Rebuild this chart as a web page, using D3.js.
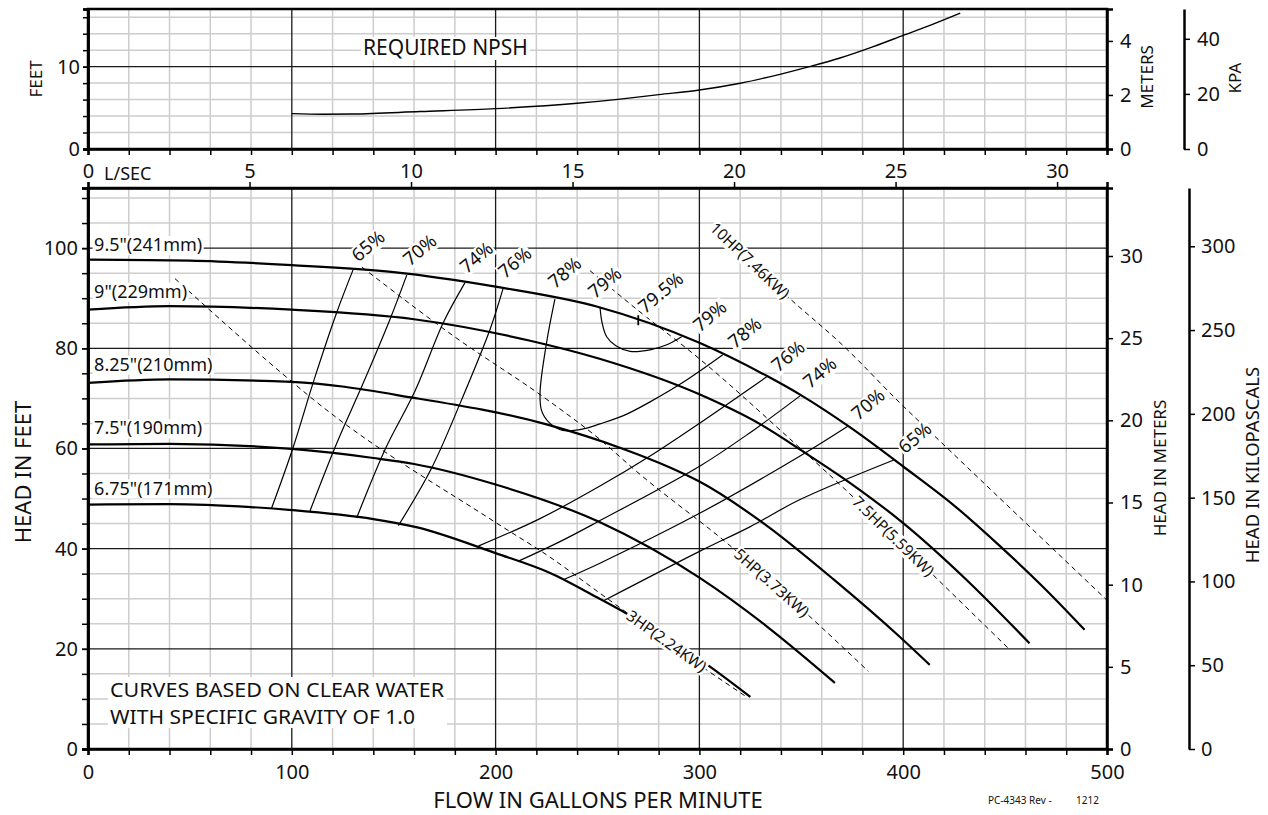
<!DOCTYPE html>
<html>
<head>
<meta charset="utf-8">
<script src="https://cdn.jsdelivr.net/npm/d3@7"></script>
<style>
  body { margin: 0; background: #fff; }
  svg { font-family: "Noto Sans", sans-serif; }
  .grid-minor { stroke: #cdcdcd; stroke-width: 1.5; }
  .grid-major { stroke: #1a1a1a; stroke-width: 1.3; }
  .frame { fill: none; stroke: #000; stroke-width: 2.5; }
  .axis path.domain { stroke: #000; stroke-width: 2.5; }
  .axis line { stroke: #000; stroke-width: 1.5; }
  .axis text { fill: #111; font-size: 20px; font-family: "Noto Sans", sans-serif; }
  .head { fill: none; stroke: #000; stroke-width: 2.2; }
  .eff { fill: none; stroke: #000; stroke-width: 1.2; }
  .power { fill: none; stroke: #000; stroke-width: 1; stroke-dasharray: 5,4; }
  .npsh { fill: none; stroke: #000; stroke-width: 1.4; }
  .label text { fill: #111; }
  .label rect { fill: #fff; }
  .title { fill: #111; }
</style>
</head>
<body>
<svg id="chart" width="1268" height="815"></svg>
<script>
const GPM_PER_LPS = 15.8503
const M_PER_FT = 0.3048
const KPA_PER_FT = 2.98907

const FLOW_MAX = 500
const HEAD_MAX = 112
const NPSH_MAX = 17

// impeller head curves  [gpm, feet]
const IMPELLERS = ['9.5"(241mm)', '9"(229mm)', '8.25"(210mm)', '7.5"(190mm)', '6.75"(171mm)']
const IMPELLER_LABEL_FT = [99.4, 90.1, 75.5, 62.8, 50.8]
const HEAD_241 = [[0,97.7],[50,97.5],[100,96.6],[150,95.2],[200,92.3],[250,88.3],[300,81.1],[333,74.5],[350,70.6],[374,64.2],[400,56.4],[425,48.6],[447.5,40.5],[470,31.8],[489,23.8]]
const HEAD_229 = [[0,87.7],[40,88.4],[100,87.7],[160,85.8],[217,81.5],[251,77.9],[300,70.8],[330,64.8],[352,59.1],[374,53.1],[400,45.1],[431,33.8],[462,21.1]]
const HEAD_210 = [[0,73.1],[40,73.8],[100,73.3],[160,70.1],[225,64.8],[262,60],[285,56.3],[300,53.4],[333,44.6],[366,33.8],[398,22.5],[413,16.8]]
const HEAD_190 = [[0,60.8],[40,60.9],[100,59.9],[140,58.1],[160,56.9],[200,52.8],[251,45.3],[300,34.2],[333,24.5],[366.5,13.2]]
const HEAD_171 = [[0,48.8],[40,48.9],[80,48.3],[100,47.7],[140,45.9],[161,44.3],[200,39.1],[227,35.1],[251,30],[264,27.1],[305,16.5],[325,10.4]]

// iso-efficiency lines  [gpm, feet]
const EFF65_L = [[130.1,95.7],[122,87.1],[111,73.8],[100.4,59.9],[90.1,48.1]]
const EFF70_L = [[156.4,94.6],[148.2,85.8],[135.1,73.1],[122,61],[108.9,47.5]]
const EFF74_L = [[185,93.1],[174.3,85.1],[160.5,71.5],[146,60],[131.8,46.1]]
const EFF76_L = [[203.8,92.1],[197.3,83.8],[183.4,69.8],[168.5,56],[152.3,44.6]]
const EFF78 = [[229.1,89.8],[225,81.1],[221.8,71.1],[222.6,67.5],[226.7,65],[233,63.6],[243,63.9],[251.2,64.9],[263,66.6],[275.8,69.3],[292,73.2],[311.5,78.7]]
const EFF79 = [[251.2,88.3],[252.3,85],[254.5,82.3],[259,80.5],[266,79.4],[275.8,79.7],[284,80.7],[291.3,82.3]]
const EFF76_R = [[191.5,40.5],[221.8,46],[251.2,52.5],[275.8,58.5],[300.3,65.1],[333,74.3]]
const EFF74_R = [[211.2,37.5],[231.6,41.4],[251.2,45.6],[300.3,56.5],[325,63.2],[349.4,70.5]]
const EFF70_R = [[233.2,33.8],[251.2,37.1],[300.3,47.1],[349.4,58.5],[373,64.5]]
const EFF65_R = [[253,29.6],[300.3,39.5],[325,44.4],[349.4,49.8],[396,57.8]]
const BEP = { flow: 270, lo: 84.6, hi: 86.6 }   // 79.5% mark

// efficiency labels: text, gpm, feet (baseline start)
const EFF_LABELS = [
  ['65%',132.6,97.1], ['70%',158,96.3], ['74%',185.8,94.8], ['76%',204.6,93.8],
  ['78%',229.1,91.8], ['79%',248.8,89.8], ['79.5%',273.3,86.8], ['79%',300.3,83.1],
  ['78%',317.5,79.8], ['76%',338.7,75.1], ['74%',354.3,71.8], ['70%',378,65.5], ['65%',400.9,58.8]
]

// motor power lines  [gpm, feet]
const HP3 = [[42.7,93.9],[100.7,73.1],[110.5,69.8],[200.5,45.1],[226.7,38.3],[251.2,31.1],[303.5,15.8],[322.4,10.6]]
const HP5 = [[134.4,96.2],[179.2,82.5],[225.1,69.8],[251.2,61.8],[269.2,55.4],[315,40.6],[355.9,25.8],[382.9,15.5]]
const HP7_5 = [[246.3,95.5],[269.2,87.8],[300.3,77.8],[342.8,62.5],[375.5,50.3],[414.8,34.7],[451.6,20.1]]
const HP10 = [[306.8,104.5],[342.8,90.5],[370.6,80.5],[398.4,69.1],[420.5,60.5],[500,29.7]]
const POWER_NAMES = ['3HP(2.24KW)', '5HP(3.73KW)', '7.5HP(5.59KW)', '10HP(7.46KW)']
const POWER_LABEL_AT = [283.9, 335.5, 395.2, 324.8]

// required NPSH  [gpm, feet]
const NPSH = [[100,4.3],[115,4.22],[130,4.25],[163,4.55],[200,4.9],[240,5.55],[260,6.03],[280,6.6],[300,7.16],[320,7.98],[340,9.1],[354,10],[369,11.05],[385,12.4],[400,13.8],[415,15.2],[428,16.5]]

const NOTE = ['CURVES BASED ON CLEAR WATER', 'WITH SPECIFIC GRAVITY OF 1.0']

// ---------------------------------------------------------------

const X0 = 88, X1 = 1107
const MAIN_TOP = 188, MAIN_BOT = 749
const NP_TOP = 9, NP_BOT = 149

const svg = d3.select('#chart')

const x = d3.scaleLinear().domain([0, FLOW_MAX]).range([X0, X1])
const xL = d3.scaleLinear().domain([0, FLOW_MAX / GPM_PER_LPS]).range([X0, X1])
const y = d3.scaleLinear().domain([0, HEAD_MAX]).range([MAIN_BOT, MAIN_TOP])
const yM = d3.scaleLinear().domain([0, HEAD_MAX * M_PER_FT]).range([MAIN_BOT, MAIN_TOP])
const yK = d3.scaleLinear().domain([0, HEAD_MAX * KPA_PER_FT]).range([MAIN_BOT, MAIN_TOP])
const yN = d3.scaleLinear().domain([0, NPSH_MAX]).range([NP_BOT, NP_TOP])
const yNM = d3.scaleLinear().domain([0, NPSH_MAX * M_PER_FT]).range([NP_BOT, NP_TOP])
const yNK = d3.scaleLinear().domain([0, NPSH_MAX * KPA_PER_FT]).range([NP_BOT, NP_TOP])

const line = (ys, curve) => d3.line()
  .x((d) => x(d[0]))
  .y((d) => ys(d[1]))
  .curve(curve || d3.curveCatmullRom.alpha(0.5))

// grids

function grid(ys, yMax, yMinorStep, yMajorStep, top, bot) {
  let g = svg.append('g')
  let xs = d3.range(20, FLOW_MAX, 20)
  let hs = d3.range(yMinorStep, yMax, yMinorStep)
  g.selectAll('.vm').data(xs.filter((v) => v % 100 !== 0)).enter().append('line')
    .attr('class', 'grid-minor')
    .attr('x1', (d) => x(d)).attr('x2', (d) => x(d)).attr('y1', top).attr('y2', bot)
  g.selectAll('.hm').data(hs.filter((v) => Math.abs(v % yMajorStep) > 1e-6)).enter().append('line')
    .attr('class', 'grid-minor')
    .attr('y1', (d) => ys(d)).attr('y2', (d) => ys(d)).attr('x1', X0).attr('x2', X1)
  g.selectAll('.vM').data(xs.filter((v) => v % 100 === 0)).enter().append('line')
    .attr('class', 'grid-major')
    .attr('x1', (d) => x(d)).attr('x2', (d) => x(d)).attr('y1', top).attr('y2', bot)
  g.selectAll('.hM').data(d3.range(yMajorStep, yMax, yMajorStep)).enter().append('line')
    .attr('class', 'grid-major')
    .attr('y1', (d) => ys(d)).attr('y2', (d) => ys(d)).attr('x1', X0).attr('x2', X1)
}

grid(yN, NPSH_MAX, 2, 10, NP_TOP, NP_BOT)
grid(y, HEAD_MAX, 5, 20, MAIN_TOP, MAIN_BOT)

// curves

let curves = svg.append('g')

curves.selectAll('.power')
  .data([HP3, HP5, HP7_5, HP10])
  .enter().append('path')
    .attr('class', 'power')
    .attr('d', line(y, d3.curveMonotoneX))

curves.selectAll('.eff')
  .data([EFF65_L, EFF70_L, EFF74_L, EFF76_L, EFF78, EFF79, EFF76_R, EFF74_R, EFF70_R, EFF65_R])
  .enter().append('path')
    .attr('class', 'eff')
    .attr('d', line(y))

curves.selectAll('.head')
  .data([HEAD_241, HEAD_229, HEAD_210, HEAD_190, HEAD_171])
  .enter().append('path')
    .attr('class', 'head')
    .attr('d', line(y, d3.curveMonotoneX))

curves.append('line')
  .attr('x1', x(BEP.flow)).attr('x2', x(BEP.flow))
  .attr('y1', y(BEP.lo)).attr('y2', y(BEP.hi))
  .attr('stroke', '#000').attr('stroke-width', 1.8)

curves.append('path')
  .datum(NPSH)
  .attr('class', 'npsh')
  .attr('d', line(yN, d3.curveMonotoneX))

// frames and axes

svg.append('rect').attr('class', 'frame')
  .attr('x', X0).attr('y', NP_TOP).attr('width', X1 - X0).attr('height', NP_BOT - NP_TOP)
svg.append('rect').attr('class', 'frame')
  .attr('x', X0).attr('y', MAIN_TOP).attr('width', X1 - X0).attr('height', MAIN_BOT - MAIN_TOP)

function axis(gen, tx, ty) {
  let g = svg.append('g').attr('class', 'axis')
    .attr('transform', 'translate(' + [tx, ty] + ')')
    .call(gen)
  g.attr('font-size', null).attr('font-family', null)
  return g
}

const fmt = d3.format('d')

// main plot
axis(d3.axisLeft(y).tickValues(d3.range(0, HEAD_MAX, 5)).tickSize(6).tickFormat(''), X0, 0)
axis(d3.axisLeft(y).tickValues(d3.range(0, 101, 20)).tickSize(6).tickPadding(4), X0, 0)
axis(d3.axisBottom(x).tickValues(d3.range(0, FLOW_MAX + 1, 20)).tickSize(6).tickPadding(10)
  .tickFormat((d) => d % 100 === 0 ? d : ''), 0, MAIN_BOT)
axis(d3.axisTop(xL).tickValues(d3.range(0, 31, 5)).tickSize(6).tickPadding(4).tickFormat(fmt), 0, MAIN_TOP)
axis(d3.axisRight(yM).tickValues(d3.range(0, 31, 5)).tickSize(6).tickPadding(7).tickFormat(fmt), X1, 0)
axis(d3.axisRight(yK).tickValues(d3.range(0, 301, 50)).tickSize(6).tickSizeOuter(0).tickPadding(6).tickFormat(fmt), 1189, 0)

// npsh panel
axis(d3.axisLeft(yN).tickValues(d3.range(0, NPSH_MAX, 2)).tickSize(5).tickFormat(''), X0, 0)
axis(d3.axisLeft(yN).tickValues([0, 10]).tickSize(5).tickPadding(3).tickFormat(fmt), X0, 0)
axis(d3.axisBottom(x).tickValues(d3.range(0, FLOW_MAX + 1, 20)).tickSize(6).tickFormat(''), 0, NP_BOT)
axis(d3.axisRight(yNM).tickValues([0, 2, 4]).tickSize(6).tickPadding(7).tickFormat(fmt), X1, 0)
axis(d3.axisRight(yNK).tickValues([0, 20, 40]).tickSize(6).tickSizeOuter(0).tickPadding(7).tickFormat(fmt), 1184, 0)

// labels with white background

function boxed(parent, txt, size, opts) {
  opts = opts || {}
  let pad = opts.pad == null ? 1.5 : opts.pad
  let g = parent.append('g').attr('class', 'label')
    .attr('transform', opts.transform)
  let rect = g.append('rect')
  let t = g.append('text')
    .attr('font-size', size)
    .attr('text-anchor', opts.anchor || 'start')
    .attr('y', opts.dy || 0)
    .text(txt)
  if (opts.length) t.attr('textLength', opts.length).attr('lengthAdjust', 'spacingAndGlyphs')
  let b = t.node().getBBox()
  let base = opts.dy || 0
  rect.attr('x', b.x - pad).attr('width', b.width + 2 * pad)
    .attr('y', base - 0.76 * size - pad)
    .attr('height', 0.9 * size + 2 * pad)
  return g
}

let labels = svg.append('g')

IMPELLERS.forEach((name, i) => {
  boxed(labels, name, 18, {
    transform: 'translate(' + [x(3), y(IMPELLER_LABEL_FT[i])] + ')'
  })
})

EFF_LABELS.forEach((d) => {
  boxed(labels, d[0], 18.5, {
    pad: 1,
    transform: 'translate(' + [x(d[1]), y(d[2])] + ') rotate(-40)'
  })
})

// power labels sit on their own line, turned along it
;[HP3, HP5, HP7_5, HP10].forEach((pts, i) => {
  let at = POWER_LABEL_AT[i]
  let k = d3.bisector((d) => d[0]).right(pts, at)
  let a = pts[k - 1], b = pts[k]
  let f = (at - a[0]) / (b[0] - a[0])
  let h = a[1] + f * (b[1] - a[1])
  let ang = Math.atan2(y(b[1]) - y(a[1]), x(b[0]) - x(a[0])) * 180 / Math.PI
  boxed(labels, POWER_NAMES[i], 15.5, {
    anchor: 'middle', dy: 5.5, pad: 1,
    transform: 'translate(' + [x(at), y(h)] + ') rotate(' + ang + ')'
  })
})

boxed(labels, 'REQUIRED NPSH', 21, { transform: 'translate(363,55)', pad: 2 })

// two-line note; one background behind both lines
let note = labels.append('g').attr('class', 'label')
let noteBg = note.append('rect')
note.selectAll('text')
  .data(NOTE)
  .enter().append('text')
    .attr('x', 110)
    .attr('y', (d, i) => 697 + i * 26.5)
    .attr('font-size', 19)
    .attr('textLength', (d, i) => i === 0 ? 334 : 305)
    .attr('lengthAdjust', 'spacingAndGlyphs')
    .text((d) => d)
noteBg.attr('x', 108).attr('y', 677).attr('width', 339).attr('height', 51)

// axis titles

function title(txt, tx, ty, size, rot) {
  svg.append('text').attr('class', 'title')
    .attr('transform', 'translate(' + [tx, ty] + ')' + (rot ? ' rotate(-90)' : ''))
    .attr('text-anchor', 'middle')
    .attr('dy', rot ? '0.35em' : 0)
    .attr('font-size', size)
    .text(txt)
}

title('HEAD IN FEET', 23, 472, 22, true)
title('FEET', 36, 79, 17, true)
title('METERS', 1147, 77, 17, true)
title('KPA', 1235, 78, 17, true)
title('HEAD IN METERS', 1160, 468, 17, true)
title('HEAD IN KILOPASCALS', 1253, 465, 18.5, true)
title('FLOW IN GALLONS PER MINUTE', 598, 808, 22, false)

svg.append('text').attr('class', 'title')
  .attr('x', 104).attr('y', 180).attr('font-size', 18).text('L/SEC')

svg.append('text').attr('class', 'title')
  .attr('x', 988).attr('y', 804).attr('font-size', 10).text('PC-4343 Rev -')
svg.append('text').attr('class', 'title')
  .attr('x', 1076).attr('y', 804).attr('font-size', 10).text('1212')
</script>
</body>
</html>
